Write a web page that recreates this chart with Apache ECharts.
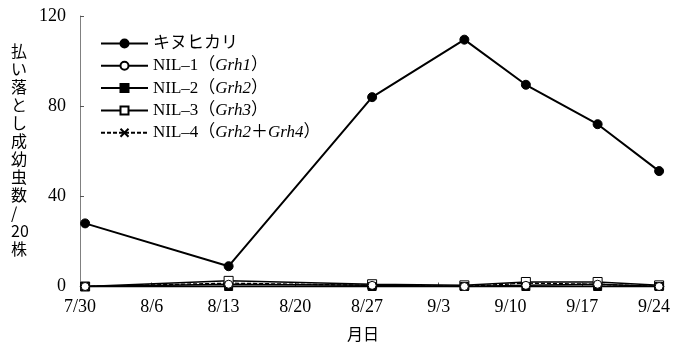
<!DOCTYPE html>
<html><head><meta charset="utf-8">
<script src="https://cdn.jsdelivr.net/npm/echarts@6/dist/echarts.min.js"></script>
<style>html,body{margin:0;padding:0;background:#fff}#c{width:673px;height:348px}</style>
</head><body><div id="c"></div>
<script>
// survey dates (month/day)
const surveyDates = ['7/30','8/13','8/27','9/5','9/11','9/18','9/24'];
const xTickLabels = ['7/30','8/6','8/13','8/20','8/27','9/3','9/10','9/17','9/24'];
const yTicks = [0, 40, 80, 120];
const seriesNames = ['キヌヒカリ','NIL-1','NIL-2','NIL-3','NIL-4'];
const kinuhikari = [28, 9, 84, 109.5, 89.5, 72, 51.2];
const nil1 = [0, 1, 0.5, 0, 0.5, 1, 0];
const nil2 = [0, 0, 0, 0, 0, 0, 0];
const nil3 = [0, 2.5, 1, 0.5, 2, 2, 0.5];
const nil4 = [0, 1.5, 0.5, 0, 1.5, 1, 0];
const legendLabels = {
  'キヌヒカリ': 'キヌヒカリ',
  'NIL-1': '{a|NIL–1（}{b|Grh1}{a|）}',
  'NIL-2': '{a|NIL–2（}{b|Grh2}{a|）}',
  'NIL-3': '{a|NIL–3（}{b|Grh3}{a|）}',
  'NIL-4': '{a|NIL–4（}{b|Grh2}{a|＋}{b|Grh4}{a|）}'
};

function dayOffset(md){
  const [m,d] = md.split('/').map(Number);
  const t = Date.UTC(2000, m-1, d) - Date.UTC(2000, 6, 30);
  return t/86400000 + 0.5; // plotted at mid-day
}
const xs = surveyDates.map(dayOffset);
const pts = arr => arr.map((v,i)=>[xs[i], v]);

const FONT = '"Liberation Serif","DejaVu Serif","Noto Sans CJK JP",serif';
const xPath = 'path://M0,0L10,10M10,0L0,10M0,0';

const chart = echarts.init(document.getElementById('c'), null, {renderer:'canvas'});
const base = {type:'line', symbolSize:8, animation:false, z:2};
chart.setOption({
  animation:false,
  backgroundColor:'#fff',
  grid:{left:80, right:4, top:16, bottom:61.5, containLabel:false},
  xAxis:{type:'value', min:0, max:57, interval:7,
    axisLine:{lineStyle:{color:'#808080', width:1}},
    axisTick:{inside:true, length:4, lineStyle:{color:'#555'}},
    splitLine:{show:false},
    axisLabel:{color:'#000', fontFamily:FONT, fontSize:18, margin:12,
      formatter:v=>xTickLabels[Math.round(v/7)] || ''},
  },
  yAxis:{type:'value', min:yTicks[0], max:yTicks[yTicks.length-1], interval:40,
    axisLine:{show:true, lineStyle:{color:'#808080', width:1}},
    axisTick:{show:true, inside:true, length:4, lineStyle:{color:'#555'}},
    splitLine:{show:false},
    axisLabel:{color:'#000', fontFamily:FONT, fontSize:18, margin:14}
  },
  legend:{orient:'vertical', left:100, top:35, padding:0, itemWidth:47, itemHeight:10, itemGap:5.3,
    data:seriesNames,
    formatter:n=>legendLabels[n],
    textStyle:{color:'#000', fontFamily:FONT, fontSize:17, lineHeight:17,
      rich:{a:{fontFamily:FONT, fontSize:17, color:'#000'},
            b:{fontFamily:FONT, fontSize:17, fontStyle:'italic', color:'#000'}}}
  },
  graphic:[
    {type:'text', left:11, top:42, style:{text:'払\nい\n落\nと\nし\n成\n幼\n虫\n数\n/\n20\n株',
      font:'16px "Noto Sans CJK JP","Liberation Serif",serif', fill:'#000', lineHeight:18, align:'center'}},
    {type:'text', left:347, top:326, style:{text:'月日', font:'16px "Noto Sans CJK JP",serif', fill:'#000'}}
  ],
  series:[
    Object.assign({}, base, {name:'NIL-4', data:pts(nil4), symbol:xPath, symbolSize:8,
      itemStyle:{color:'none', borderColor:'#000', borderWidth:1},
      lineStyle:{color:'#000', width:1.3, type:[4,2]}}),
    Object.assign({}, base, {name:'NIL-3', data:pts(nil3), symbol:'rect', symbolSize:9,
      itemStyle:{color:'#fff', borderColor:'#000', borderWidth:1},
      lineStyle:{color:'#000', width:1.5}}),
    Object.assign({}, base, {name:'NIL-2', data:pts(nil2), symbol:'rect', symbolSize:8,
      itemStyle:{color:'#000', borderColor:'#000', borderWidth:1},
      lineStyle:{color:'#000', width:2}}),
    Object.assign({}, base, {name:'NIL-1', data:pts(nil1), symbol:'circle', symbolSize:8,
      itemStyle:{color:'#fff', borderColor:'#000', borderWidth:1},
      lineStyle:{color:'#000', width:1.5}}),
    Object.assign({}, base, {name:'キヌヒカリ', data:pts(kinuhikari), symbol:'circle', symbolSize:9,
      itemStyle:{color:'#000', borderColor:'#000', borderWidth:1},
      lineStyle:{color:'#000', width:2}, z:5}),
  ]
});
</script></body></html>
